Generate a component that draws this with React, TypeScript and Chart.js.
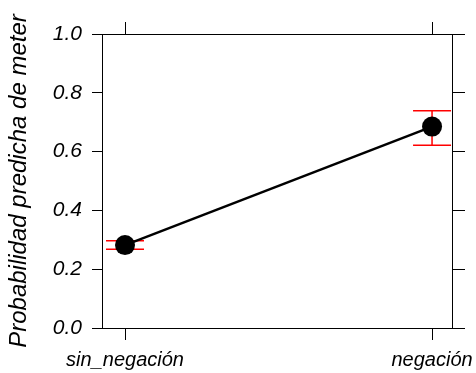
import React, { useEffect, useRef } from "react";
import { Chart, registerables } from "chart.js";

Chart.register(...registerables);

const categories = ["sin_negación", "negación"];
const positions = [1, 2];
const estimates = [0.282, 0.685];
const lower = [0.268, 0.622];
const upper = [0.297, 0.739];
const yTicks = [0, 0.2, 0.4, 0.6, 0.8, 1.0];
const yTitle = "Probabilidad predicha de meter";

const FONT = "'Liberation Sans', Arial, sans-serif";

const errorBars = {
  id: "errorBars",
  beforeDatasetsDraw(chart: any) {
    const { ctx, scales } = chart;
    const xs = scales.x;
    const ys = scales.y;
    ctx.save();
    ctx.strokeStyle = "#ff0000";
    ctx.lineWidth = 1.5;
    positions.forEach((p, i) => {
      const x = xs.getPixelForValue(p);
      const yl = ys.getPixelForValue(lower[i]);
      const yu = ys.getPixelForValue(upper[i]);
      ctx.beginPath();
      ctx.moveTo(x, yl);
      ctx.lineTo(x, yu);
      ctx.moveTo(x - 19, yl);
      ctx.lineTo(x + 19, yl);
      ctx.moveTo(x - 19, yu);
      ctx.lineTo(x + 19, yu);
      ctx.stroke();
    });
    ctx.restore();
  },
};

export default function App() {
  const ref = useRef<HTMLCanvasElement>(null);
  useEffect(() => {
    document.body.style.margin = "0";
    if (!ref.current) return;
    const setTicks = (scale: any) => {
      scale.ticks = positions.map((v) => ({ value: v }));
    };
    const chart = new Chart(ref.current, {
      type: "scatter",
      data: {
        datasets: [
          {
            data: positions.map((p, i) => ({ x: p, y: estimates[i] })),
            showLine: true,
            borderColor: "#000000",
            borderWidth: 2.5,
            pointRadius: 10,
            pointBackgroundColor: "#000000",
            pointBorderColor: "#000000",
            pointBorderWidth: 0,
          },
        ],
      },
      options: {
        animation: false,
        responsive: false,
        devicePixelRatio: 1,
        layout: { padding: 0 },
        plugins: { legend: { display: false }, tooltip: { enabled: false } },
        scales: {
          x: {
            type: "linear",
            position: "bottom",
            min: 0.925,
            max: 2.065,
            afterBuildTicks: setTicks,
            afterFit: (s: any) => {
              s.height = 45;
              s.paddingLeft = 0;
              s.paddingRight = 0;
            },
            ticks: {
              color: "#000",
              padding: 8,
              maxRotation: 0,
              autoSkip: false,
              font: { family: FONT, size: 20, style: "italic" },
              callback: (v: any) => {
                const i = positions.indexOf(Number(v));
                return i >= 0 ? categories[i] : "";
              },
            },
            grid: {
              drawOnChartArea: false,
              drawTicks: true,
              tickLength: 12,
              color: "#000",
              tickColor: "#000",
            },
            border: { display: true, color: "#000", width: 1 },
          },
          x2: {
            type: "linear",
            position: "top",
            min: 0.925,
            max: 2.065,
            afterBuildTicks: setTicks,
            afterFit: (s: any) => {
              s.height = 34;
              s.paddingLeft = 0;
              s.paddingRight = 0;
            },
            ticks: { display: false },
            grid: {
              drawOnChartArea: false,
              drawTicks: true,
              tickLength: 12,
              color: "#000",
              tickColor: "#000",
            },
            border: { display: true, color: "#000", width: 1 },
          },
          y: {
            type: "linear",
            position: "left",
            min: 0,
            max: 1,
            afterBuildTicks: (s: any) => {
              s.ticks = yTicks.map((v) => ({ value: v }));
            },
            afterFit: (s: any) => {
              s.width = 102;
            },
            title: {
              display: true,
              text: yTitle,
              color: "#000",
              padding: { top: 5, bottom: 0 },
              font: { family: FONT, size: 24, style: "italic" },
            },
            ticks: {
              color: "#000",
              padding: 10,
              font: { family: FONT, size: 21, style: "italic" },
              callback: (v: any) => Number(v).toFixed(1),
            },
            grid: {
              drawOnChartArea: false,
              drawTicks: true,
              tickLength: 10,
              color: "#000",
              tickColor: "#000",
            },
            border: { display: true, color: "#000", width: 1 },
          },
          y2: {
            type: "linear",
            position: "right",
            min: 0,
            max: 1,
            afterBuildTicks: (s: any) => {
              s.ticks = yTicks.map((v) => ({ value: v }));
            },
            afterFit: (s: any) => {
              s.width = 24;
            },
            ticks: { display: false },
            grid: {
              drawOnChartArea: false,
              drawTicks: true,
              tickLength: 13,
              color: "#000",
              tickColor: "#000",
            },
            border: { display: true, color: "#000", width: 1 },
          },
        },
      },
      plugins: [errorBars],
    });
    return () => chart.destroy();
  }, []);
  return (
    <div style={{ width: 476, height: 373 }}>
      <canvas ref={ref} width={476} height={373} style={{ display: "block" }} />
    </div>
  );
}
